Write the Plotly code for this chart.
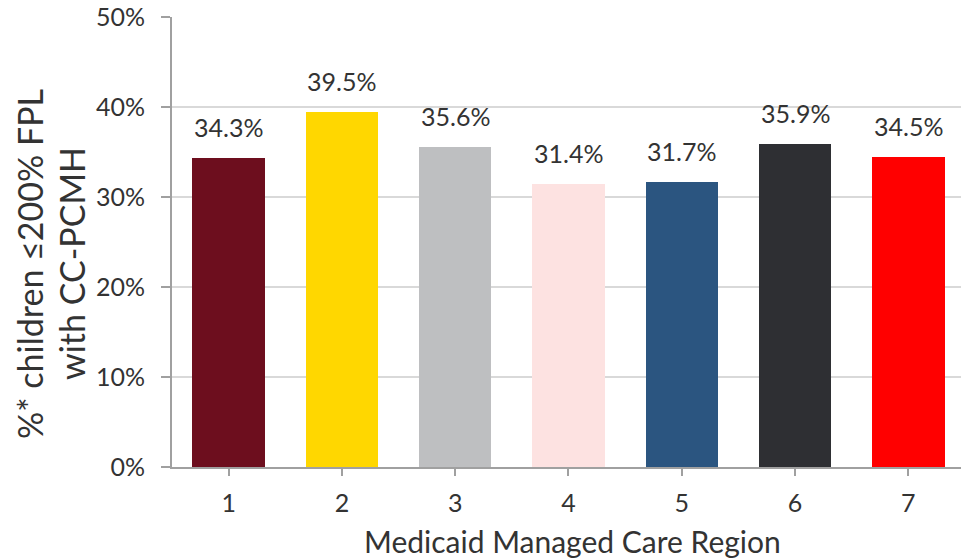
import plotly.graph_objects as go

regions = ["1", "2", "3", "4", "5", "6", "7"]
values = [0.343, 0.395, 0.356, 0.314, 0.317, 0.359, 0.345]
labels = ["34.3%", "39.5%", "35.6%", "31.4%", "31.7%", "35.9%", "34.5%"]
colors = ["#6D0E1E", "#FFD700", "#BEBFC1", "#FDE2E1", "#2B5580", "#2E2F33", "#FF0000"]
y_ticks = [0, 0.1, 0.2, 0.3, 0.4, 0.5]
y_tick_text = ["0%", "10%", "20%", "30%", "40%", "50%"]
x_title = "Medicaid Managed Care Region"
y_title_lines = ["%* children ≤200% FPL", "with CC-PCMH"]

FONT = "Lato"
TXT = "#333333"

fig = go.Figure()
fig.add_trace(go.Bar(
    x=list(range(len(regions))), y=values,
    marker=dict(color=colors, line=dict(width=0)),
    width=0.64, hoverinfo="skip",
))

for i, (v, t) in enumerate(zip(values, labels)):
    fig.add_annotation(x=i, y=v, text=t, showarrow=False, yshift=31,
                       yanchor="middle", font=dict(family=FONT, size=25, color=TXT))

for line, xs in zip(y_title_lines, [-143, -101]):
    fig.add_annotation(xref="paper", yref="paper", x=0, y=0.451, xshift=xs,
                       text=line, textangle=-90, showarrow=False,
                       xanchor="center", yanchor="middle",
                       font=dict(family=FONT, size=34, color=TXT))
fig.add_annotation(xref="paper", yref="paper", x=0.507, y=0, yshift=-74,
                   text=x_title, showarrow=False,
                   xanchor="center", yanchor="middle",
                   font=dict(family=FONT, size=30, color=TXT))

fig.update_layout(
    width=961, height=558,
    margin=dict(l=172, r=0, t=17, b=91),
    plot_bgcolor="white", paper_bgcolor="white",
    showlegend=False,
    font=dict(family=FONT, color=TXT),
    bargap=0,
)
fig.update_xaxes(
    tickmode="array", tickvals=list(range(len(regions))), ticktext=regions,
    range=[-0.5, 6.465], automargin=False,
    tickson="boundaries", ticks="outside", ticklen=7, tickcolor="#A0A0A0", tickwidth=2,
    showline=True, linecolor="#A0A0A0", linewidth=2,
    showgrid=False,
    tickfont=dict(family=FONT, size=25, color=TXT),
    ticklabelstandoff=6,
)
fig.update_yaxes(
    range=[0, 0.5001], tickmode="array", tickvals=y_ticks, ticktext=y_tick_text,
    automargin=False, ticklabeloverflow="allow",
    ticks="outside", ticklen=9, tickcolor="#A0A0A0", tickwidth=2,
    showline=True, linecolor="#A0A0A0", linewidth=2,
    showgrid=True, gridcolor="#D9D9D9", gridwidth=2,
    zeroline=False,
    tickfont=dict(family=FONT, size=25, color=TXT),
    ticklabelstandoff=11,
)

fig.write_html("out.html", config={"displayModeBar": False},
               post_script="document.body.style.margin='0';document.body.style.overflow='hidden';")
